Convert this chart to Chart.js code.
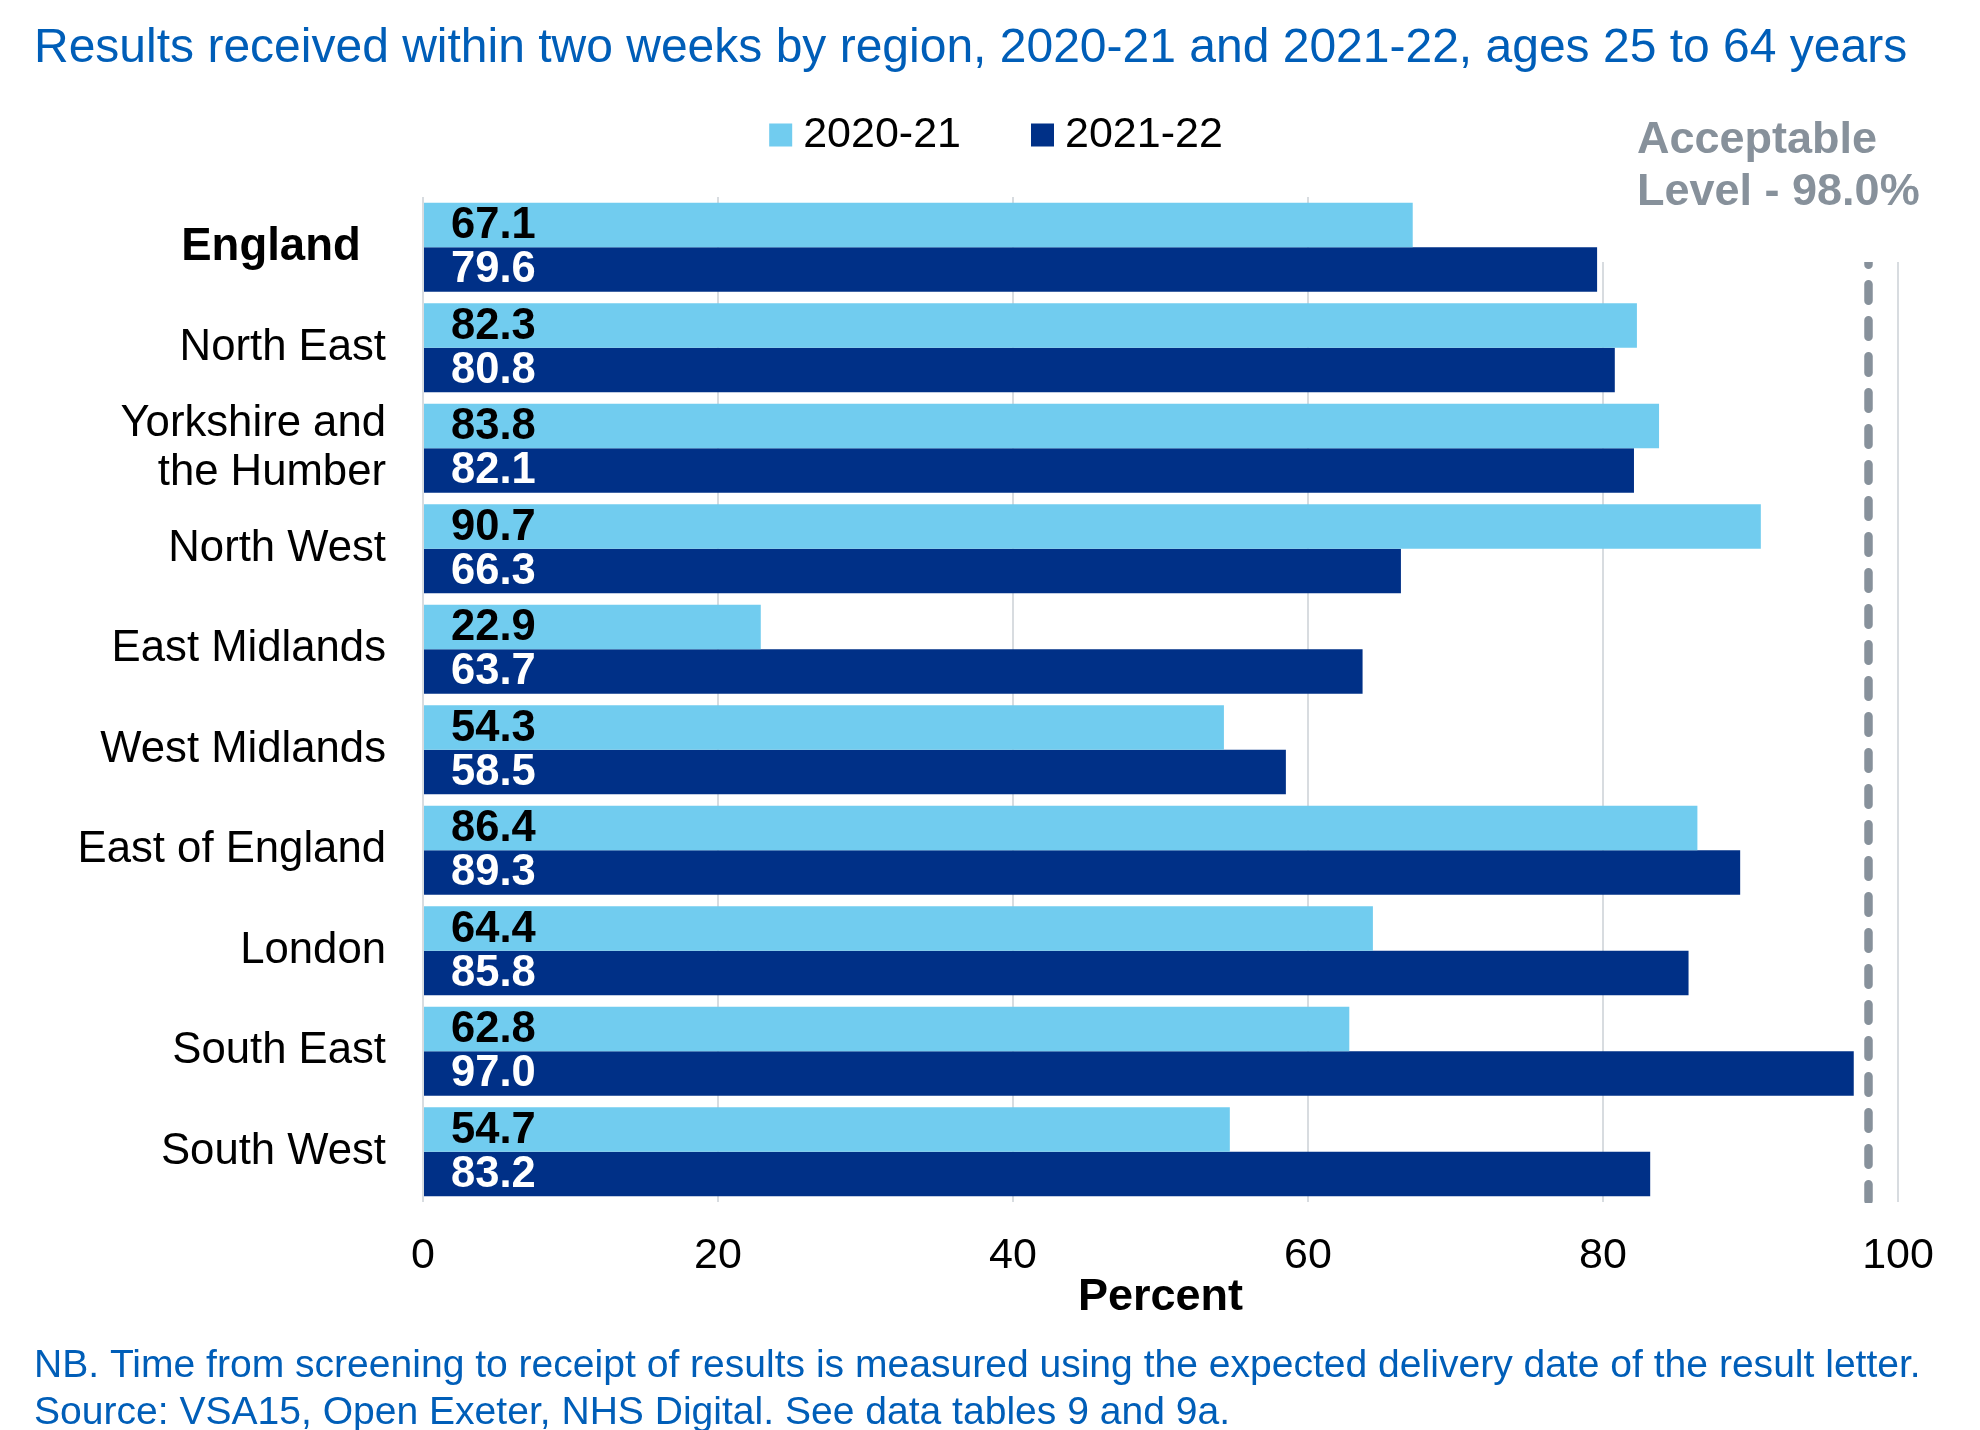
<!DOCTYPE html>
<html>
<head>
<meta charset="utf-8">
<script src="https://cdn.jsdelivr.net/npm/chart.js@4.4.0/dist/chart.umd.min.js"></script>
<style>
html,body{margin:0;padding:0;background:#ffffff;}
#wrap{width:1980px;height:1430px;position:relative;}
</style>
</head>
<body>
<div id="wrap"><canvas id="c" width="1980" height="1430"></canvas></div>
<script>
// ---- data ----
const categories = ['England', 'North East', ['Yorkshire and', 'the Humber'], 'North West', 'East Midlands',
  'West Midlands', 'East of England', 'London', 'South East', 'South West'];
const seriesNames = ['2020-21', '2021-22'];
const values2020_21 = [67.1, 82.3, 83.8, 90.7, 22.9, 54.3, 86.4, 64.4, 62.8, 54.7];
const values2021_22 = [79.6, 80.8, 82.1, 66.3, 63.7, 58.5, 89.3, 85.8, 97.0, 83.2];
const xTickValues = [0, 20, 40, 60, 80, 100];
const acceptableLevel = 98.0;
const acceptableLabel = ['Acceptable', 'Level - 98.0%'];
const titleText = 'Results received within two weeks by region, 2020-21 and 2021-22, ages 25 to 64 years';
const footnoteLines = ['NB. Time from screening to receipt of results is measured using the expected delivery date of the result letter.',
  'Source: VSA15, Open Exeter, NHS Digital. See data tables 9 and 9a.'];
const xAxisTitle = 'Percent';

// ---- styles ----
const LIGHT = '#71CCEF';
const DARK = '#003087';
const BLUE = '#005EB8';
const GREY = '#87919B';
const GRID = '#D8DCE0';
const FONT = "'Liberation Sans', Arial, Helvetica, sans-serif";

const overlay = {
  id: 'overlay',
  beforeDatasetsDraw(chart) {
    const {ctx, chartArea, scales: {x}} = chart;
    // white box behind the "Acceptable Level" note hides top of right gridlines
    const left = x.getPixelForValue(80) - 3;
    ctx.save();
    ctx.fillStyle = '#ffffff';
    ctx.fillRect(left, chartArea.top - 2, chart.width - left, 67);
    ctx.restore();
  },
  afterDatasetsDraw(chart) {
    const {ctx, chartArea, scales: {x}} = chart;
    // value labels
    ctx.save();
    ctx.font = 'bold 43.5px ' + FONT;
    ctx.textAlign = 'left';
    ctx.textBaseline = 'middle';
    chart.data.datasets.forEach((ds, di) => {
      const meta = chart.getDatasetMeta(di);
      ctx.fillStyle = di === 0 ? '#000000' : '#ffffff';
      meta.data.forEach((bar, i) => {
        ctx.fillText(ds.data[i].toFixed(1), bar.base + 27, bar.y + 1);
      });
    });
    ctx.restore();
    // acceptable level dashed line
    const xp = x.getPixelForValue(acceptableLevel);
    const clipTop = chartArea.top + 65;
    ctx.save();
    ctx.beginPath();
    ctx.rect(xp - 10, clipTop, 20, chartArea.bottom + 1 - clipTop);
    ctx.clip();
    ctx.strokeStyle = GREY;
    ctx.lineWidth = 8.5;
    ctx.lineCap = 'round';
    ctx.setLineDash([16.5, 19.5]);
    ctx.beginPath();
    ctx.moveTo(xp, chartArea.top + 51.25);
    ctx.lineTo(xp, chartArea.bottom + 20);
    ctx.stroke();
    ctx.restore();
  },
  afterDraw(chart) {
    const {ctx} = chart;
    // legend
    ctx.save();
    ctx.font = '43px ' + FONT;
    ctx.textBaseline = 'middle';
    ctx.textAlign = 'left';
    const box = 23, gapText = 11, gapItem = 70;
    const items = chart.data.datasets.map(ds => ({label: ds.label, color: ds.backgroundColor, w: ctx.measureText(ds.label).width}));
    let total = 0;
    items.forEach((it, i) => { total += box + gapText + it.w + (i < items.length - 1 ? gapItem : 0); });
    let cx = chart.width / 2 + 6 - total / 2;
    const ly = 135;
    items.forEach(it => {
      ctx.fillStyle = it.color;
      ctx.fillRect(cx, ly - box / 2, box, box);
      ctx.fillStyle = '#000000';
      ctx.fillText(it.label, cx + box + gapText, ly);
      cx += box + gapText + it.w + gapItem;
    });
    // acceptable level note
    ctx.font = 'bold 45px ' + FONT;
    ctx.fillStyle = GREY;
    ctx.textBaseline = 'alphabetic';
    ctx.fillText(acceptableLabel[0], 1637, 153);
    ctx.fillText(acceptableLabel[1], 1637, 205);
    ctx.restore();
  }
};

new Chart(document.getElementById('c'), {
  type: 'bar',
  data: {
    labels: categories,
    datasets: [
      {label: seriesNames[0], data: values2020_21, backgroundColor: LIGHT, borderWidth: 0},
      {label: seriesNames[1], data: values2021_22, backgroundColor: DARK, borderWidth: 0}
    ]
  },
  options: {
    indexAxis: 'y',
    responsive: false,
    devicePixelRatio: 1,
    animation: false,
    categoryPercentage: 0.885,
    barPercentage: 1.0,
    layout: {padding: {top: 0, left: 34, right: 40, bottom: 0}},
    plugins: {
      legend: {display: false},
      tooltip: {enabled: false},
      title: {
        display: true, text: titleText, align: 'start', color: BLUE,
        font: {family: FONT, size: 48, weight: 'normal', lineHeight: 1.2},
        padding: {top: 19.7, bottom: 119.7}
      },
      subtitle: {
        display: true, text: footnoteLines, align: 'start', position: 'bottom', color: BLUE,
        font: {family: FONT, size: 39.05, weight: 'normal', lineHeight: 1.183},
        padding: {top: 0, bottom: -6}
      }
    },
    scales: {
      x: {
        type: 'linear', min: 0, max: 100,
        afterBuildTicks(scale) { scale.ticks = xTickValues.map(v => ({value: v})); },
        afterFit(scale) { scale.height = 141.6; },
        ticks: {color: '#000000', padding: 28, font: {family: FONT, size: 43, lineHeight: 1.2}},
        grid: {color: GRID, lineWidth: 2, drawTicks: false},
        border: {display: false},
        title: {display: true, text: xAxisTitle, color: '#000000',
          font: {family: FONT, size: 45, weight: 'bold', lineHeight: 1.2},
          padding: {top: 0, bottom: 18.6}}
      },
      y: {
        afterFit(scale) { scale.width = 389; },
        ticks: {
          color: '#000000', padding: 37, autoSkip: false,
          font: (c) => ({family: FONT, size: c.index === 0 ? 45.5 : 43.7, lineHeight: 1.12, weight: c.index === 0 ? 'bold' : 'normal'}),
          callback: function (value, index) {
            const l = this.getLabelForValue(value);
            return index === 0 ? l + '  ' : l;
          }
        },
        grid: {display: false, drawTicks: false},
        border: {display: false}
      },
      // empty right-hand margin so the chart area ends at 100 while title/footnote can run wider
      yMargin: {
        type: 'category', position: 'right', display: true,
        afterFit(scale) { scale.width = 42; },
        ticks: {display: false},
        grid: {display: false, drawTicks: false},
        border: {display: false}
      }
    }
  },
  plugins: [overlay]
});
</script>
</body>
</html>
